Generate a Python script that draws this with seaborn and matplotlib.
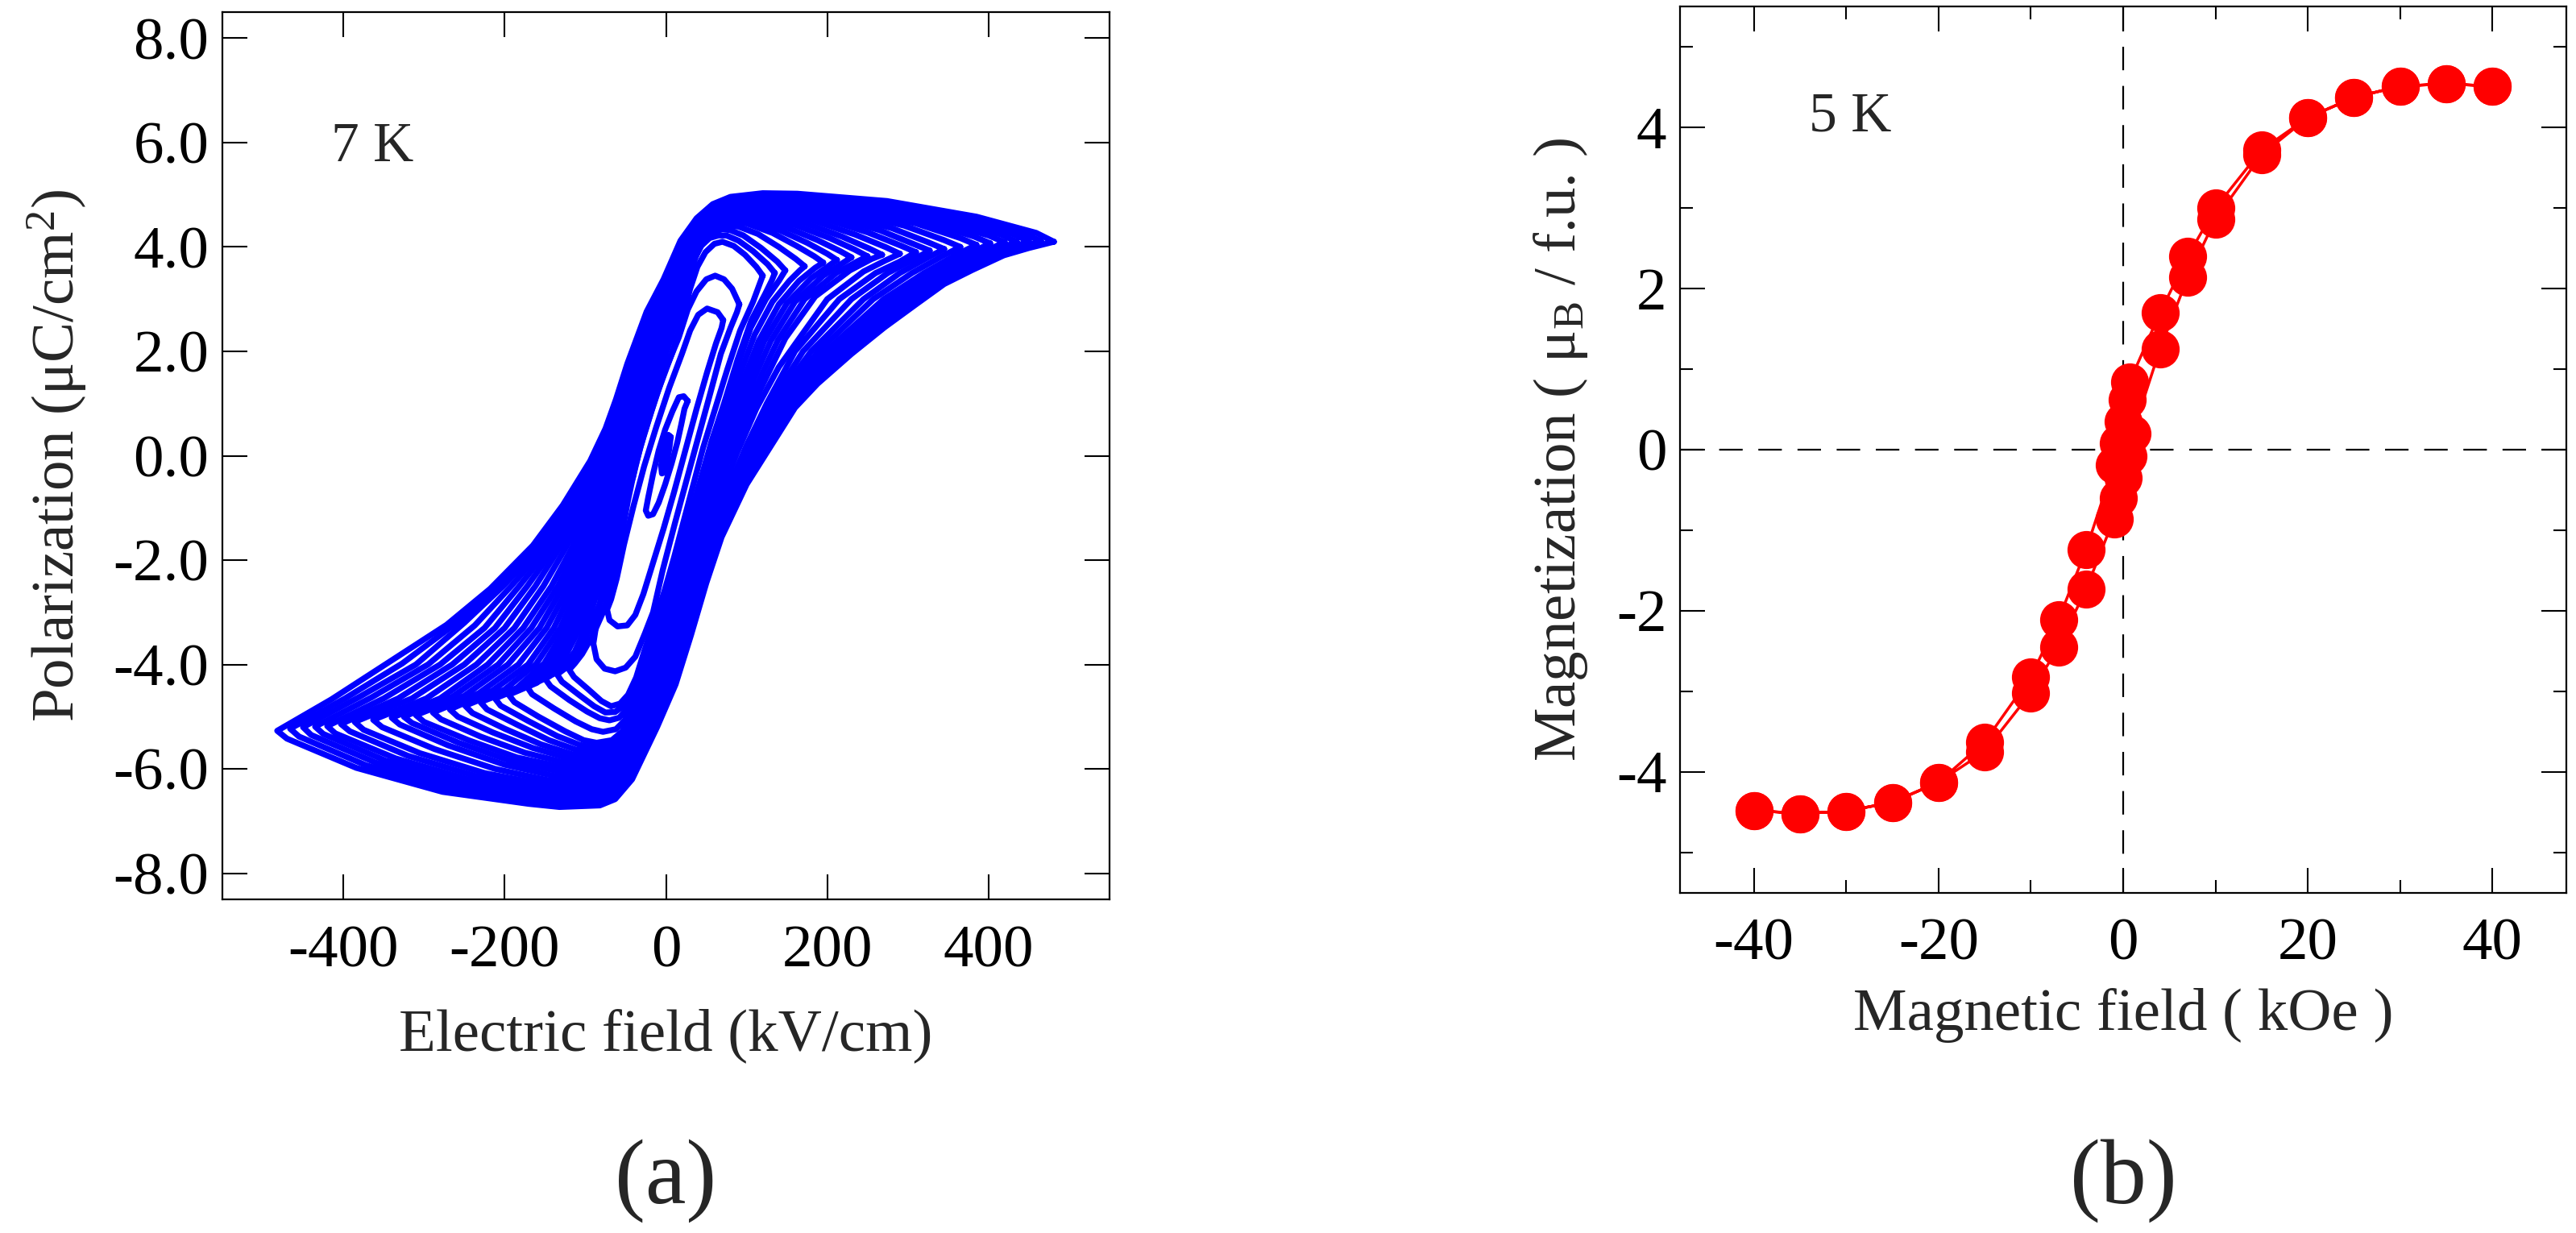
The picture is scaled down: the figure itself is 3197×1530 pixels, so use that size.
import numpy as np
import pandas as pd
import matplotlib
matplotlib.use("Agg")
import matplotlib.pyplot as plt
from matplotlib.ticker import MultipleLocator, FormatStrFormatter
import seaborn as sns

# ---------------- Panel (a): P-E loops (E in kV/cm, P in uC/cm2) ----------------
loop_481 = [(481,4.10),(459,4.27),(385,4.58),(274,4.88),(163,5.02),(120,5.03),(80,4.96),(58,4.82),(38,4.55),(18,4.12),(-3,3.38),(-24,2.76),(-48,1.76),(-62,1.08),(-75,0.52),(-94,-0.10),(-128,-0.95),(-165,-1.72),(-218,-2.55),(-272,-3.24),(-343,-3.95),(-415,-4.67),(-482,-5.27),
            (-470,-5.42),(-384,-5.98),(-277,-6.44),(-170,-6.67),(-132,-6.73),(-82,-6.70),(-63,-6.58),(-42,-6.2),(-11,-5.2),(12,-4.38),(31,-3.44),(50,-2.44),(69,-1.56),(100,-0.55),(138,0.38),(160,0.92),(188,1.38),(230,1.95),(271,2.46),(310,2.9),(345,3.29),(380,3.56),(419,3.84),(450,3.98),(481,4.10)]
loop_465 = [(465,4.11),(444,4.26),(372,4.57),(267,4.86),(162,5.0),(119,5.01),(80,4.94),(58,4.8),(38,4.53),(19,4.1),(-2,3.37),(-22,2.74),(-47,1.75),(-61,1.07),(-74,0.5),(-93,-0.12),(-124,-0.95),(-160,-1.72),(-210,-2.53),(-261,-3.22),(-327,-3.98),(-398,-4.65),(-466,-5.23),
            (-455,-5.38),(-372,-5.93),(-268,-6.39),(-168,-6.62),(-129,-6.68),(-82,-6.64),(-63,-6.52),(-42,-6.13),(-12,-5.15),(10,-4.34),(29,-3.42),(48,-2.45),(67,-1.58),(97,-0.58),(134,0.39),(161,1.01),(207,1.69),(288,2.73),(352,3.4),(417,3.87),(465,4.11)]
loop_450 = [(450,4.11),(430,4.25),(360,4.55),(260,4.83),(160,4.97),(118,4.98),(80,4.92),(58,4.77),(38,4.5),(20,4.08),(0,3.35),(-20,2.72),(-45,1.74),(-59,1.05),(-73,0.48),(-91,-0.14),(-120,-0.95),(-154,-1.72),(-202,-2.5),(-250,-3.2),(-310,-4.0),(-380,-4.62),(-450,-5.2),
            (-440,-5.35),(-360,-5.88),(-260,-6.33),(-165,-6.57),(-125,-6.62),(-82,-6.58),(-62,-6.45),(-42,-6.05),(-14,-5.1),(8,-4.3),(27,-3.4),(46,-2.45),(64,-1.6),(93,-0.6),(130,0.4),(162,1.1),(225,2.0),(305,3.0),(358,3.5),(415,3.9),(450,4.11)]
loop_435 = [(435,4.1),(415,4.24),(348,4.53),(252,4.8),(158,4.95),(116,4.96),(79,4.9),(57,4.75),(38,4.47),(20,4.05),(1,3.33),(-18,2.71),(-43,1.73),(-57,1.04),(-71,0.46),(-88,-0.15),(-116,-0.95),(-148,-1.72),(-192,-2.5),(-237,-3.25),(-295,-4.0),(-365,-4.63),(-435,-5.19),
            (-425,-5.33),(-348,-5.84),(-252,-6.26),(-162,-6.5),(-122,-6.56),(-81,-6.52),(-61,-6.38),(-42,-5.98),(-15,-5.05),(6,-4.25),(25,-3.38),(44,-2.45),(62,-1.61),(90,-0.61),(127,0.4),(158,1.1),(218,2.0),(297,3.0),(349,3.5),(402,3.89),(435,4.1)]
loop_420 = [(420,4.09),(400,4.22),(335,4.51),(245,4.78),(155,4.93),(115,4.94),(78,4.88),(57,4.72),(38,4.45),(21,4.03),(3,3.32),(-16,2.7),(-42,1.72),(-56,1.03),(-69,0.45),(-86,-0.16),(-112,-0.95),(-142,-1.72),(-182,-2.5),(-225,-3.3),(-280,-4.0),(-350,-4.65),(-420,-5.18),
            (-410,-5.32),(-335,-5.8),(-245,-6.2),(-160,-6.43),(-120,-6.5),(-80,-6.45),(-61,-6.3),(-42,-5.9),(-16,-5.0),(5,-4.2),(24,-3.35),(43,-2.45),(60,-1.62),(87,-0.62),(124,0.4),(155,1.1),(212,2.0),(290,3.0),(340,3.5),(390,3.88),(420,4.09)]
loop_402 = [(402,4.07),(382,4.2),(322,4.48),(238,4.75),(152,4.9),(113,4.91),(77,4.85),(56,4.7),(38,4.42),(21,4.0),(4,3.3),(-14,2.68),(-40,1.71),(-54,1.02),(-67,0.43),(-83,-0.18),(-107,-0.96),(-136,-1.72),(-172,-2.5),(-212,-3.3),(-265,-4.0),(-332,-4.65),(-403,-5.14),
            (-392,-5.28),(-320,-5.75),(-235,-6.14),(-155,-6.37),(-118,-6.43),(-79,-6.38),(-60,-6.22),(-42,-5.82),(-17,-4.95),(3,-4.15),(22,-3.32),(41,-2.45),(58,-1.63),(84,-0.66),(120,0.4),(150,1.1),(205,2.0),(280,3.0),(330,3.5),(375,3.86),(402,4.07)]
loop_385 = [(385,4.04),(365,4.17),(310,4.45),(230,4.72),(150,4.88),(112,4.89),(76,4.83),(56,4.67),(38,4.4),(22,3.98),(6,3.28),(-12,2.66),(-39,1.7),(-53,1.01),(-65,0.42),(-81,-0.2),(-103,-0.97),(-130,-1.72),(-162,-2.5),(-200,-3.3),(-250,-4.0),(-315,-4.65),(-386,-5.1),
            (-375,-5.25),(-305,-5.7),(-225,-6.08),(-150,-6.3),(-115,-6.37),(-78,-6.32),(-60,-6.15),(-42,-5.75),(-18,-4.9),(2,-4.1),(21,-3.3),(40,-2.45),(56,-1.65),(82,-0.7),(116,0.4),(145,1.1),(198,2.0),(270,3.0),(320,3.5),(360,3.85),(385,4.04)]
loop_365 = [(365,4.0),(345,4.13),(295,4.41),(220,4.69),(145,4.85),(110,4.86),(75,4.8),(55,4.64),(38,4.37),(23,3.95),(7,3.26),(-10,2.64),(-37,1.69),(-51,1.0),(-62,0.41),(-77,-0.21),(-98,-0.98),(-123,-1.73),(-152,-2.5),(-188,-3.3),(-235,-4.0),(-297,-4.65),(-363,-5.06),
            (-352,-5.2),(-287,-5.62),(-212,-6.0),(-145,-6.22),(-111,-6.28),(-77,-6.23),(-59,-6.06),(-42,-5.66),(-19,-4.84),(0,-4.05),(19,-3.27),(38,-2.45),(54,-1.66),(79,-0.74),(112,0.35),(140,1.08),(189,2.0),(257,3.0),(305,3.5),(342,3.82),(365,4.0)]
loop_345 = [(345,3.96),(325,4.09),(280,4.36),(210,4.65),(140,4.82),(108,4.83),(74,4.77),(55,4.61),(38,4.34),(24,3.93),(9,3.24),(-8,2.62),(-36,1.68),(-49,0.99),(-60,0.4),(-74,-0.22),(-94,-1.0),(-116,-1.75),(-142,-2.5),(-177,-3.3),(-221,-4.0),(-280,-4.65),(-340,-5.02),
            (-330,-5.15),(-270,-5.55),(-200,-5.92),(-140,-6.13),(-108,-6.2),(-76,-6.15),(-59,-5.98),(-42,-5.58),(-20,-4.78),(-1,-4.0),(18,-3.25),(36,-2.45),(52,-1.68),(76,-0.78),(108,0.3),(135,1.05),(180,2.0),(245,3.0),(290,3.5),(325,3.8),(345,3.96)]
loop_327 = [(327,3.93),(308,4.05),(265,4.32),(200,4.61),(135,4.78),(105,4.79),(73,4.73),(54,4.57),(38,4.3),(25,3.9),(10,3.22),(-6,2.6),(-33,1.66),(-46,0.98),(-57,0.39),(-71,-0.23),(-90,-1.01),(-110,-1.76),(-134,-2.5),(-167,-3.3),(-208,-4.0),(-265,-4.62),(-325,-5.0),
            (-315,-5.12),(-257,-5.5),(-192,-5.85),(-135,-6.04),(-105,-6.11),(-75,-6.06),(-58,-5.89),(-42,-5.49),(-21,-4.71),(-2,-3.95),(16,-3.22),(34,-2.45),(50,-1.69),(73,-0.81),(104,0.25),(130,1.02),(170,2.0),(230,3.0),(275,3.5),(307,3.76),(327,3.93)]
loop_310 = [(310,3.9),(292,4.02),(250,4.28),(190,4.57),(130,4.74),(102,4.75),(72,4.69),(54,4.54),(38,4.27),(26,3.87),(12,3.2),(-4,2.58),(-31,1.65),(-44,0.97),(-55,0.38),(-68,-0.24),(-86,-1.02),(-104,-1.77),(-127,-2.5),(-157,-3.3),(-196,-4.0),(-250,-4.6),(-310,-4.97),
            (-300,-5.1),(-245,-5.45),(-185,-5.78),(-130,-5.96),(-103,-6.02),(-74,-5.97),(-58,-5.8),(-42,-5.4),(-22,-4.65),(-4,-3.9),(15,-3.2),(33,-2.45),(48,-1.7),(71,-0.85),(100,0.2),(125,1.0),(160,2.0),(215,3.0),(260,3.5),(290,3.72),(310,3.9)]
loop_290 = [(290,3.87),(272,4.0),(234,4.24),(180,4.52),(125,4.69),(99,4.7),(71,4.65),(53,4.5),(38,4.22),(27,3.83),(13,3.17),(-2,2.56),(-28,1.63),(-41,0.96),(-52,0.37),(-65,-0.25),(-82,-1.03),(-99,-1.78),(-120,-2.5),(-148,-3.3),(-183,-4.0),(-232,-4.55),(-289,-4.92),
            (-279,-5.05),(-230,-5.38),(-175,-5.69),(-125,-5.88),(-100,-5.93),(-73,-5.88),(-57,-5.71),(-42,-5.32),(-24,-4.6),(-7,-3.88),(11,-3.18),(29,-2.45),(45,-1.72),(64,-0.92),(88,0.05),(112,0.9),(140,1.7),(170,2.35),(200,3.0),(245,3.53),(272,3.74),(290,3.87)]
loop_268 = [(268,3.85),(252,3.97),(218,4.2),(170,4.47),(120,4.64),(96,4.65),(70,4.6),(53,4.45),(39,4.18),(28,3.8),(15,3.15),(0,2.54),(-26,1.62),(-39,0.95),(-50,0.36),(-63,-0.26),(-79,-1.05),(-95,-1.8),(-114,-2.5),(-139,-3.3),(-171,-4.0),(-215,-4.5),(-268,-4.86),
            (-258,-5.0),(-215,-5.3),(-165,-5.6),(-120,-5.8),(-98,-5.85),(-72,-5.8),(-57,-5.62),(-43,-5.24),(-27,-4.55),(-10,-3.85),(8,-3.15),(25,-2.45),(41,-1.75),(58,-0.98),(76,-0.15),(96,0.55),(118,1.3),(148,2.25),(185,3.05),(228,3.55),(255,3.77),(268,3.85)]
loop_250 = [(250,3.82),(234,3.95),(203,4.17),(160,4.42),(115,4.59),(93,4.61),(69,4.55),(52,4.4),(39,4.14),(29,3.77),(16,3.12),(1,2.52),(-24,1.61),(-37,0.94),(-48,0.35),(-60,-0.27),(-75,-1.06),(-91,-1.81),(-108,-2.5),(-131,-3.3),(-161,-3.99),(-200,-4.48),(-249,-4.79),
            (-240,-4.93),(-200,-5.23),(-155,-5.53),(-116,-5.72),(-95,-5.77),(-71,-5.71),(-56,-5.53),(-43,-5.16),(-28,-4.48),(-11,-3.8),(5,-3.12),(22,-2.43),(37,-1.75),(54,-0.99),(71,-0.18),(90,0.52),(111,1.3),(139,2.22),(172,3.0),(211,3.5),(237,3.72),(250,3.82)]
loop_230 = [(230,3.8),(216,3.92),(188,4.13),(150,4.37),(110,4.54),(90,4.56),(68,4.5),(52,4.36),(40,4.1),(30,3.73),(18,3.1),(3,2.5),(-22,1.6),(-35,0.93),(-46,0.34),(-58,-0.28),(-72,-1.07),(-87,-1.82),(-102,-2.5),(-124,-3.3),(-151,-3.98),(-185,-4.45),(-230,-4.72),
            (-222,-4.86),(-185,-5.15),(-145,-5.45),(-112,-5.63),(-93,-5.68),(-70,-5.62),(-56,-5.45),(-43,-5.08),(-29,-4.42),(-13,-3.75),(3,-3.1),(19,-2.42),(34,-1.75),(50,-1.0),(66,-0.22),(84,0.5),(104,1.3),(130,2.2),(160,2.95),(195,3.45),(218,3.68),(230,3.8)]
loop_212 = [(212,3.75),(200,3.87),(175,4.08),(141,4.32),(105,4.5),(87,4.52),(66,4.46),(51,4.32),(40,4.06),(30,3.7),(19,3.08),(4,2.48),(-20,1.59),(-33,0.92),(-44,0.33),(-55,-0.29),(-69,-1.08),(-83,-1.83),(-97,-2.5),(-118,-3.3),(-143,-3.96),(-172,-4.4),(-212,-4.65),
            (-205,-4.79),(-171,-5.08),(-135,-5.37),(-107,-5.54),(-90,-5.59),(-68,-5.54),(-55,-5.37),(-42,-5.0),(-30,-4.36),(-15,-3.7),(1,-3.05),(16,-2.38),(31,-1.72),(46,-0.97),(62,-0.21),(79,0.5),(98,1.3),(122,2.2),(150,2.92),(180,3.4),(202,3.64),(212,3.75)]
loop_195 = [(195,3.7),(184,3.82),(162,4.02),(132,4.27),(100,4.45),(84,4.47),(65,4.41),(51,4.27),(40,4.02),(31,3.66),(20,3.05),(6,2.46),(-18,1.58),(-31,0.91),(-42,0.32),(-53,-0.3),(-66,-1.1),(-79,-1.85),(-92,-2.5),(-112,-3.3),(-136,-3.95),(-160,-4.35),(-195,-4.58),
            (-188,-4.72),(-158,-5.0),(-125,-5.28),(-102,-5.45),(-86,-5.5),(-67,-5.45),(-54,-5.28),(-42,-4.92),(-30,-4.3),(-16,-3.65),(-1,-3.0),(14,-2.35),(28,-1.7),(43,-0.95),(58,-0.2),(74,0.5),(92,1.3),(115,2.2),(140,2.9),(165,3.35),(185,3.6),(195,3.7)]
loop_172 = [(172,3.63),(161,3.77),(140,4.0),(114,4.25),(90,4.39),(77,4.41),(62,4.35),(49,4.2),(39,3.92),(30,3.53),(19,2.94),(6,2.33),(-17,1.49),(-30,0.83),(-41,0.24),(-52,-0.38),(-63,-1.11),(-75,-1.85),(-88,-2.5),(-105,-3.25),(-125,-3.85),(-145,-4.23),(-172,-4.43),
            (-166,-4.57),(-139,-4.84),(-112,-5.09),(-92,-5.24),(-78,-5.29),(-62,-5.24),(-51,-5.07),(-40,-4.71),(-28,-4.13),(-15,-3.5),(0,-2.88),(14,-2.23),(27,-1.55),(41,-0.83),(56,-0.1),(71,0.6),(89,1.45),(110,2.32),(132,2.95),(153,3.35),(166,3.55),(172,3.63)]
loop_150 = [(148,3.55),(138,3.72),(118,3.98),(96,4.22),(80,4.32),(70,4.34),(58,4.28),(47,4.12),(37,3.82),(28,3.4),(18,2.82),(5,2.2),(-16,1.4),(-29,0.75),(-40,0.15),(-50,-0.45),(-60,-1.12),(-71,-1.85),(-83,-2.5),(-97,-3.2),(-113,-3.75),(-130,-4.1),(-150,-4.27),
            (-143,-4.42),(-120,-4.68),(-98,-4.9),(-82,-5.03),(-70,-5.07),(-58,-5.02),(-48,-4.85),(-38,-4.5),(-27,-3.95),(-14,-3.35),(0,-2.75),(13,-2.1),(26,-1.4),(39,-0.7),(53,0.0),(68,0.7),(86,1.6),(105,2.45),(124,3.0),(140,3.35),(148,3.55)]
loop_135 = [(135,3.5),(126,3.67),(108,3.92),(90,4.12),(75,4.22),(65,4.22),(54,4.17),(43,4.01),(34,3.72),(25,3.3),(15,2.7),(3,2.09),(-14,1.28),(-28,0.58),(-39,-0.03),(-49,-0.65),(-58,-1.36),(-68,-2.1),(-80,-2.75),(-94,-3.3),(-108,-3.77),(-122,-4.04),(-135,-4.19),
            (-129,-4.33),(-108,-4.58),(-89,-4.8),(-75,-4.92),(-63,-4.91),(-53,-4.8),(-43,-4.54),(-32,-4.1),(-20,-3.57),(-7,-3.0),(6,-2.4),(19,-1.8),(31,-1.1),(44,-0.4),(57,0.3),(72,1.0),(89,1.85),(106,2.6),(123,3.1),(131,3.35),(135,3.5)]
loop_120 = [(120,3.45),(112,3.62),(98,3.85),(84,4.02),(70,4.1),(60,4.06),(49,3.9),(39,3.62),(30,3.2),(20,2.6),(8,1.98),(-12,1.15),(-27,0.42),(-38,-0.2),(-47,-0.85),(-56,-1.6),(-66,-2.35),(-78,-3.0),(-91,-3.45),(-104,-3.8),(-113,-3.98),(-120,-4.1),
            (-114,-4.24),(-96,-4.48),(-80,-4.7),(-68,-4.8),(-57,-4.75),(-47,-4.58),(-37,-4.25),(-27,-3.75),(-15,-3.2),(-2,-2.6),(10,-1.95),(22,-1.25),(34,-0.55),(46,0.15),(60,0.85),(76,1.65),(92,2.4),(108,2.95),(120,3.45)]
loop_90 = [(91,2.9),(82,3.2),(72,3.38),(61,3.45),(50,3.38),(38,3.15),(27,2.8),(16,2.27),(-2,1.6),(-18,0.85),(-32,0.15),(-41,-0.42),(-55,-1.0),(-66,-1.6),(-77,-2.4),(-85,-3.1),(-90,-3.6),
           (-86,-3.9),(-76,-4.08),(-63,-4.13),(-50,-4.06),(-38,-3.85),(-26,-3.4),(-16,-3.0),(-4,-2.19),(11,-1.3),(25,-0.5),(40,0.35),(55,1.2),(68,1.95),(80,2.45),(88,2.75),(91,2.9)]
loop_71 = [(71,2.6),(64,2.75),(51,2.82),(40,2.7),(30,2.4),(20,1.96),(4,1.3),(-12,0.55),(-27,-0.2),(-40,-0.95),(-52,-1.7),(-61,-2.35),(-68,-2.75),(-73,-2.95),
           (-70,-3.15),(-60,-3.27),(-48,-3.25),(-38,-3.05),(-28,-2.65),(-16,-2.05),(-3,-1.4),(10,-0.7),(24,0.1),(38,0.9),(51,1.6),(62,2.15),(69,2.45),(71,2.6)]
loop_31 = [(27,1.05),(22,1.14),(16,1.12),(8,0.85),(-1,0.5),(-9,0.1),(-16,-0.35),(-22,-0.8),(-25,-1.05),
           (-22,-1.15),(-16,-1.12),(-9,-0.9),(-1,-0.55),(7,-0.15),(14,0.25),(19,0.6),(23,0.9),(27,1.05)]
loop_10 = [(6,0.36),(3,0.4),(-1,0.28),(-4,0.05),(-6,-0.2),(-5,-0.34),(-2,-0.32),(1,-0.12),(4,0.12),(6,0.36)]

pe_loops = [loop_481, loop_465, loop_450, loop_435, loop_420, loop_402, loop_385,
            loop_365, loop_345, loop_327, loop_310, loop_290, loop_268, loop_250,
            loop_230, loop_212, loop_195, loop_172, loop_150, loop_135, loop_120,
            loop_90, loop_71, loop_31, loop_10]

# ---------------- Panel (b): M-H loop (H in kOe, M in muB/f.u.) ----------------
H_desc = [40, 35, 30, 25, 20, 15, 10, 7, 4, 0.7, 0.4, 0, -0.5, -1.0, -4, -7, -10, -15, -20, -25, -30, -35, -40]
M_desc = [4.51, 4.54, 4.51, 4.37, 4.12, 3.72, 3.00, 2.40, 1.70, 0.84, 0.62, 0.35, 0.08, -0.19, -1.24, -2.11, -2.82, -3.63, -4.13, -4.38, -4.49, -4.52, -4.48]
H_asc = [-40, -35, -30, -25, -20, -15, -10, -7, -4, -1.0, -0.5, 0, 0.5, 1.0, 4, 7, 10, 15, 20, 25, 30, 35, 40]
M_asc = [-4.48, -4.52, -4.49, -4.38, -4.13, -3.75, -3.02, -2.45, -1.73, -0.86, -0.6, -0.35, -0.08, 0.20, 1.25, 2.14, 2.86, 3.66, 4.12, 4.37, 4.51, 4.54, 4.51]

# ---------------- styling ----------------
sns.set_theme(style="ticks")
plt.rcParams["font.family"] = ["Liberation Serif", "DejaVu Serif"]
plt.rcParams["mathtext.fontset"] = "custom"
plt.rcParams["mathtext.rm"] = "Liberation Serif"
plt.rcParams["mathtext.it"] = "Liberation Serif:italic"
plt.rcParams["axes.unicode_minus"] = False
plt.rcParams["lines.scale_dashes"] = False

DPI = 100
fig = plt.figure(figsize=(3197 / DPI, 1530 / DPI), dpi=DPI, facecolor="white")
ax1 = fig.add_axes([276 / 3197, 1 - 1116 / 1530, 1101 / 3197, 1101 / 1530])
ax2 = fig.add_axes([2085 / 3197, 1 - 1107.5 / 1530, 1100 / 3197, 1099.5 / 1530])

FS = 54

# panel (a)
rows = []
for i, lp in enumerate(pe_loops):
    for j, (e, p) in enumerate(lp):
        rows.append((i, j, e, p))
df_a = pd.DataFrame(rows, columns=["loop", "idx", "E", "P"])
sns.lineplot(data=df_a, x="E", y="P", units="loop", estimator=None, sort=False,
             color="#0000ff", linewidth=5.3, legend=False, ax=ax1,
             solid_joinstyle="round", solid_capstyle="round")
ax1.set_xlim(-550, 550)
ax1.set_ylim(-8.5, 8.5)
ax1.set_xticks([-400, -200, 0, 200, 400])
ax1.set_yticks(np.arange(-8, 8.1, 2))
ax1.yaxis.set_major_formatter(FormatStrFormatter("%.1f"))
ax1.set_xlabel("Electric field (kV/cm)", fontsize=FS, labelpad=26)
ax1.set_ylabel("Polarization (μC/cm$^{2}$)", fontsize=FS, labelpad=22)
ax1.text(-415, 5.64, "7 K", fontsize=50, ha="left", va="baseline")

# panel (b)
ax2.axhline(0, color="black", lw=1.6, dashes=(21, 14), zorder=1)
ax2.axvline(0, color="black", lw=1.6, dashes=(21, 14), zorder=1)
H_all = H_desc + H_asc
M_all = M_desc + M_asc
sns.lineplot(x=H_all, y=M_all, sort=False, estimator=None, color="#ff0000",
             linewidth=2.5, marker="o", markersize=34, markeredgewidth=0,
             legend=False, ax=ax2, zorder=3)
ax2.set_xlim(-48, 48)
ax2.set_ylim(-5.5, 5.5)
ax2.xaxis.set_major_locator(MultipleLocator(20))
ax2.xaxis.set_minor_locator(MultipleLocator(10))
ax2.yaxis.set_major_locator(MultipleLocator(2))
ax2.yaxis.set_minor_locator(MultipleLocator(1))
ax2.set_xlabel("Magnetic field ( kOe )", fontsize=FS, labelpad=14)
ax2.set_ylabel("Magnetization ( μ$_{\\mathrm{B}}$ / f.u. )", fontsize=FS, labelpad=24)
ax2.text(-34, 3.95, "5 K", fontsize=50, ha="left", va="baseline")

for ax in (ax1, ax2):
    ax.grid(False)
    ax.set_facecolor("white")
    for s in ax.spines.values():
        s.set_visible(True)
        s.set_linewidth(1.6)
        s.set_color("black")
    ax.tick_params(which="both", direction="in", top=True, right=True,
                   colors="black", labelsize=FS, width=1.5)
    ax.tick_params(which="major", length=22)
    ax.tick_params(which="minor", length=11.5)
    ax.tick_params(axis="y", which="both", pad=12)
    ax.tick_params(axis="x", which="both", pad=23)

fig.text(826 / 3197, 1 - 1465 / 1530, "(a)", fontsize=82, ha="center", va="center")
fig.text(2635 / 3197, 1 - 1465 / 1530, "(b)", fontsize=82, ha="center", va="center")

fig.savefig("out.png", dpi=DPI, facecolor="white")
